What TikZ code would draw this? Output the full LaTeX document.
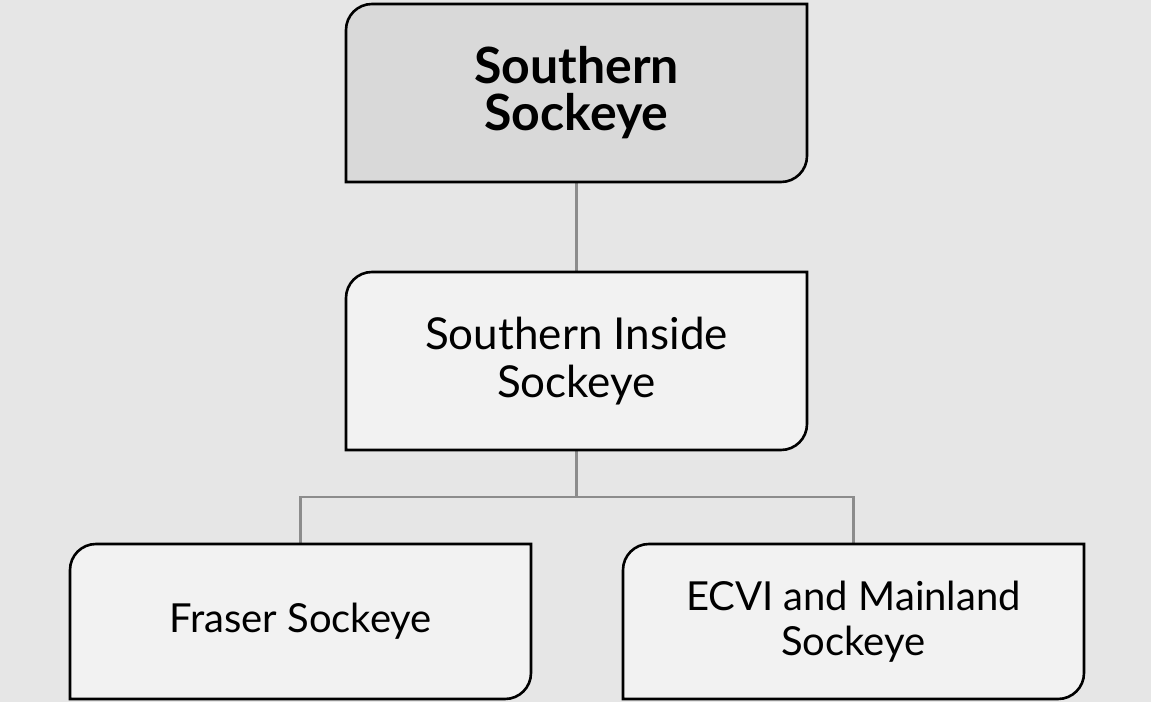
\documentclass[tikz,border=0pt]{standalone}
\usepackage{fontspec}
\setmainfont{Lato}
\usetikzlibrary{calc}
\definecolor{pagebg}{HTML}{E6E6E6}
\definecolor{headfill}{HTML}{D9D9D9}
\definecolor{boxfill}{HTML}{F2F2F2}
\definecolor{linkgrey}{HTML}{8C8C8C}
\newcommand{\rad}{13pt}
\newcommand{\cornerbox}[2]{%
  \draw[boxline, fill=#2] (#1.south west) -- ([yshift=-\rad]#1.north west)
    arc[start angle=180, end angle=90, radius=\rad] -- (#1.north east)
    -- ([yshift=\rad]#1.south east)
    arc[start angle=0, end angle=-90, radius=\rad] -- cycle;}
\pgfdeclarelayer{back}
\pgfsetlayers{back,main}
\tikzset{
  stockbox/.style={inner sep=0pt, outer sep=0pt, align=center, text=black,
                   minimum width=230.5pt},
  boxline/.style={draw=black, line width=1.3pt},
  link/.style={draw=linkgrey, line width=1.1pt}}
\begin{document}
\begin{tikzpicture}[x=0.5pt, y=0.5pt]
    \useasboundingbox (0,0) rectangle (1151,702);
    \node[stockbox, minimum height=89pt, font=\fontsize{25}{23.5}\selectfont\bfseries] (south) at (576.5,609)
      {Southern\\Sockeye};
    \node[stockbox, minimum height=89pt, font=\fontsize{22}{24}\selectfont] (inside) at (576.5,341)
      {Southern Inside\\Sockeye};
    \node[stockbox, minimum height=77.5pt, font=\fontsize{20}{22.5}\selectfont] (fraser) at (300.5,80.5)
      {Fraser Sockeye};
    \node[stockbox, minimum height=77.5pt, font=\fontsize{20}{22.5}\selectfont] (ecvi) at (853.5,80.5)
      {ECVI and Mainland\\Sockeye};
    \begin{pgfonlayer}{back}
      \fill[pagebg] (0,0) rectangle (1151,702);
      \draw[link] (south.south) -- (inside.north);
      \draw[link] (inside.south) -- ++(0,-47) coordinate (split) -| (fraser.north);
      \draw[link] (split) -| (ecvi.north);
      \cornerbox{south}{headfill}
      \cornerbox{inside}{boxfill}
      \cornerbox{fraser}{boxfill}
      \cornerbox{ecvi}{boxfill}
    \end{pgfonlayer}
  \end{tikzpicture}
\end{document}
